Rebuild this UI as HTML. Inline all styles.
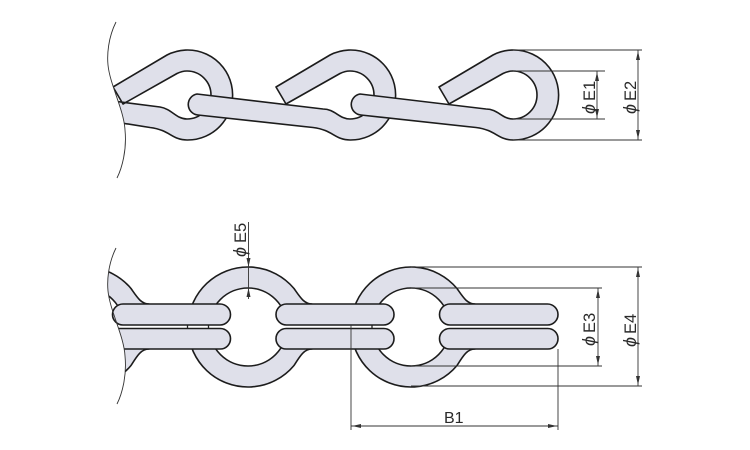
<!DOCTYPE html>
<html>
<head>
<meta charset="utf-8">
<style>
html,body{margin:0;padding:0;background:#fff}
svg{display:block}
text{font-family:"Liberation Sans",sans-serif;font-size:16.5px;fill:#2a2a2a}
.p{font-style:italic;font-size:18px}
.b{font-size:16px}
.s{fill:#dfe0ea;stroke:#1c1c1c;stroke-width:1.6;stroke-linejoin:round}
.d{stroke:#333;stroke-width:.9;fill:none}
.a{fill:#333;stroke:none}
</style>
</head>
<body>
<svg width="750" height="450" viewBox="0 0 750 450" xmlns="http://www.w3.org/2000/svg">
<defs>
<clipPath id="ct"><path d="M116,22 C108,38 107,55 108,65 C110,85 124,110 125,130 C127,150 122,168 117,178 L700,178 L700,22 Z"/></clipPath>
<clipPath id="cb"><path transform="translate(0,226)" d="M116,22 C108,38 107,55 108,65 C110,85 124,110 125,130 C127,150 122,168 117,178 L700,178 L700,22 Z"/></clipPath>
</defs>

<!-- top chain -->
<g clip-path="url(#ct)">
<path class="s" d="M113,87 L167,55 A45,45 0 1 1 187,140 C172,140 170,130 150,127.500 L90,118 L90,98 L160,107 C172,109 176,119 187,119 A24,24 0 0 0 187,71 C183,71 180,72 177,73.500 L123,104 Z"/>
</g>
<path class="s" d="M276,87 L330,55 A45,45 0 1 1 350,140 C335,140 333,130 313,127.500 L198,115 A10.600,10.600 0 0 1 197,94 L323,109 C335,109 339,119 350,119 A24,24 0 0 0 350,71 C346,71 343,72 340,73.500 L286,104 Z"/>
<path class="s" d="M439,87 L493,55 A45,45 0 1 1 513,140 C498,140 496,130 476,127.500 L361,115 A10.600,10.600 0 0 1 360,94 L486,109 C498,109 502,119 513,119 A24,24 0 0 0 513,71 C509,71 506,72 503,73.500 L449,104 Z"/>
<path d="M116,22 C108,38 107,55 108,65 C110,85 124,110 125,130 C127,150 122,168 117,178" fill="none" stroke="#333" stroke-width=".9"/>

<!-- bottom chain rings -->
<g clip-path="url(#cb)">
<path class="s" fill-rule="evenodd" d="M131,288.500 C137,297 141,304 149,304 L149,349 C141,349 137,356 131,365.500 A60,60 0 1 1 131,288.500 Z M124,327 A39,39 0 1 0 46,327 A39,39 0 1 0 124,327 Z"/>
</g>
<path class="s" fill-rule="evenodd" d="M294,288.500 C300,297 304,304 312,304 L312,349 C304,349 300,356 294,365.500 A60,60 0 1 1 294,288.500 Z M287,327 A39,39 0 1 0 209,327 A39,39 0 1 0 287,327 Z"/>
<path class="s" fill-rule="evenodd" d="M457,288.500 C463,297 467,304 475,304 L475,349 C467,349 463,356 457,365.500 A60,60 0 1 1 457,288.500 Z M450,327 A39,39 0 1 0 372,327 A39,39 0 1 0 450,327 Z"/>

<!-- gaps between bars -->
<rect x="118" y="325" width="108" height="4" fill="#fff"/>
<rect x="282" y="325" width="106" height="4" fill="#fff"/>
<rect x="445" y="325" width="107" height="4" fill="#fff"/>
<path d="M187.500,325V329M208.500,325V329M372,325V329" stroke="#222" stroke-width="1.300"/>

<!-- bars -->
<rect class="s" x="112.500" y="304" width="118" height="21" rx="10.500"/>
<g clip-path="url(#cb)"><rect class="s" x="100" y="328.500" width="130.500" height="20.500" rx="10.200"/></g>
<rect class="s" x="276" y="304" width="118" height="21" rx="10.500"/>
<rect class="s" x="276" y="328.500" width="118" height="20.500" rx="10.200"/>
<rect class="s" x="439.500" y="304" width="118.500" height="21" rx="10.500"/>
<rect class="s" x="439.500" y="328.500" width="118.500" height="20.500" rx="10.200"/>
<path d="M116,248 C108,264 107,281 108,291 C110,311 124,336 125,356 C127,376 122,394 117,404" fill="none" stroke="#333" stroke-width=".9"/>

<!-- dimensions top -->
<path class="d" d="M513,50H642M513,140H642M638,50V140M513,71H605M513,119H605M597,71V119"/>
<path class="a" d="M638,51l-2,9h4zM638,139l-2,-9h4zM597,72l-2,9h4zM597,118l-2,-9h4z"/>
<text transform="translate(595,101) rotate(-90)">E1</text>
<text class="p" transform="translate(595,114) rotate(-90)">ϕ</text>
<text transform="translate(636,101) rotate(-90)">E2</text>
<text class="p" transform="translate(636,114) rotate(-90)">ϕ</text>

<!-- dimensions bottom -->
<path class="d" d="M248.500,222V299M411,267H642M411,386H642M638,267V386M411,288H602M411,366H602M598,288V366M351,325V430M558,349V430M351,426H558"/>
<path class="a" d="M248.500,267l-2,-9h4zM248.500,288l-2,9h4zM638,268l-2,9h4zM638,385l-2,-9h4zM598,289l-2,9h4zM598,365l-2,-9h4zM352,426l9,-2v4zM557,426l-9,-2v4z"/>
<text transform="translate(246,243) rotate(-90)">E5</text>
<text class="p" transform="translate(246,257) rotate(-90)">ϕ</text>
<text transform="translate(595,333) rotate(-90)">E3</text>
<text class="p" transform="translate(595,346) rotate(-90)">ϕ</text>
<text transform="translate(636,334) rotate(-90)">E4</text>
<text class="p" transform="translate(636,347) rotate(-90)">ϕ</text>
<text class="b" x="444" y="423">B1</text>
</svg>
</body>
</html>
